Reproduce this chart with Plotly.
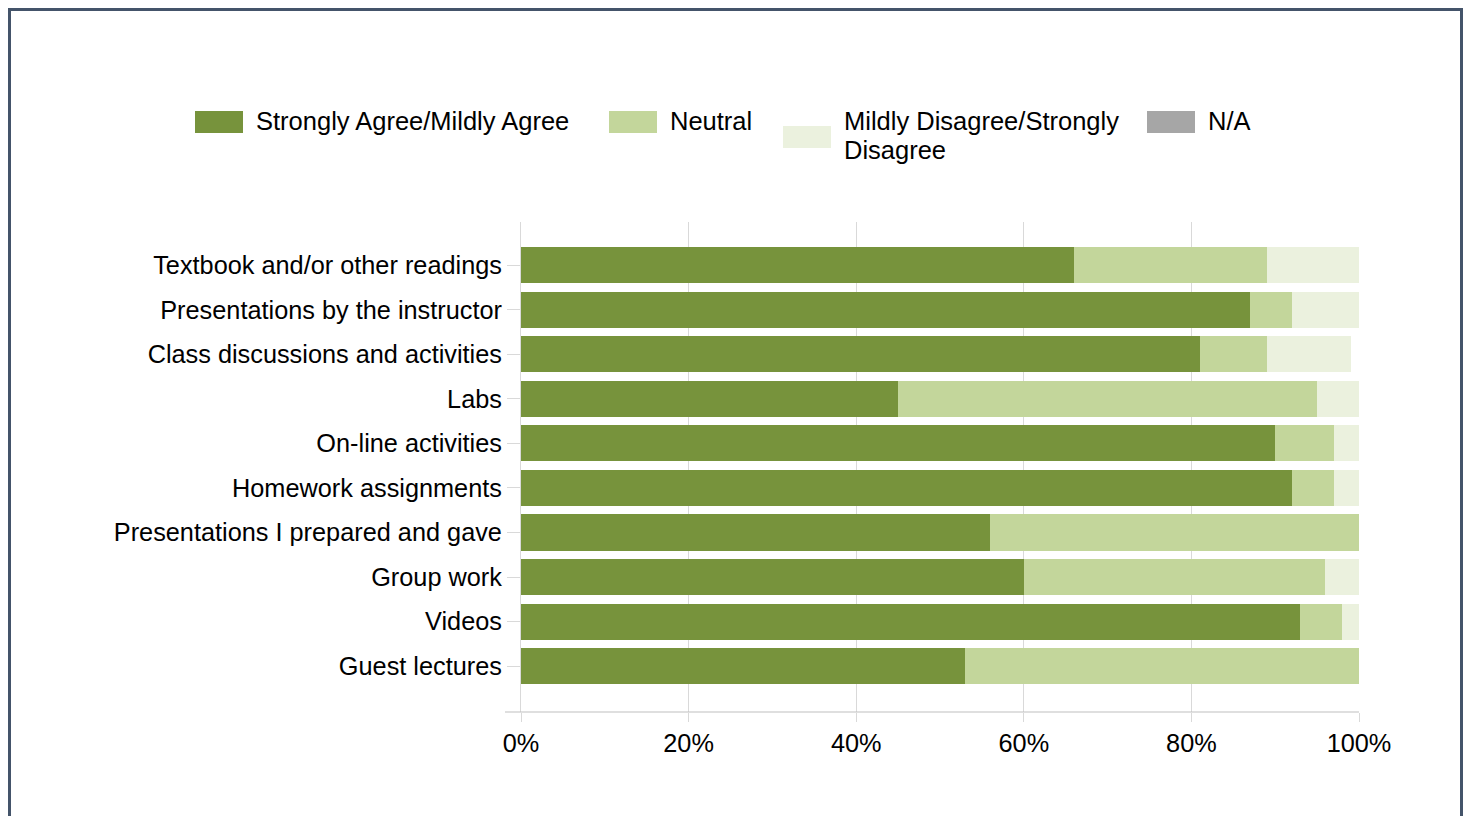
import plotly.graph_objects as go

categories = [
    "Textbook and/or other readings",
    "Presentations by the instructor",
    "Class discussions and activities",
    "Labs",
    "On-line activities",
    "Homework assignments",
    "Presentations I prepared and gave",
    "Group work",
    "Videos",
    "Guest lectures",
]
agree = [66, 87, 81, 45, 90, 92, 56, 60, 93, 53]
neutral = [23, 5, 8, 50, 7, 5, 44, 36, 5, 47]
disagree = [11, 8, 10, 5, 3, 3, 0, 4, 2, 0]
na = [0, 0, 0, 0, 0, 0, 0, 0, 0, 0]

series_names = ["Strongly Agree/Mildly Agree", "Neutral",
                "Mildly Disagree/Strongly Disagree", "N/A"]
legend_lines = [["Strongly Agree/Mildly Agree"], ["Neutral"],
                ["Mildly Disagree/Strongly", "Disagree"], ["N/A"]]
colors = ["#77933C", "#C3D69B", "#EBF1DE", "#A6A6A6"]
x_ticks = [0, 20, 40, 60, 80, 100]

OFF = 8  # page body margin
W, H = 1465, 808  # figure size (fits the window after body margin)
# plot area in screen pixels
L, R, T, B = 521, 1359, 222, 712
FONT = "Liberation Sans, Arial, sans-serif"
FS = 25.3
FS_LEG = 25.5


def px(x):
    return (x - L) / (R - L)


def py(y):
    return (B - y) / (B - T)


fig = go.Figure()
for name, vals, col in zip(series_names, [agree, neutral, disagree, na], colors):
    fig.add_trace(go.Bar(
        y=categories, x=vals, name=name, orientation="h",
        marker=dict(color=col, line=dict(width=0)),
        showlegend=False,
    ))

shapes = []
annotations = []
# frame
shapes.append(dict(type="rect", xref="paper", yref="paper",
                   x0=px(9.5), x1=px(1461.5), y0=py(840), y1=py(9.5),
                   line=dict(color="#44546A", width=3), layer="below"))
# extended x axis line
shapes.append(dict(type="line", xref="paper", yref="paper",
                   x0=px(505), x1=1, y0=0, y1=0,
                   line=dict(color="#BFBFBF", width=1)))

# manual legend
legend_items = [
    (195, 111, 254),
    (609, 111, 668),
    (783, 126, 842),
    (1147, 111, 1206),
]
for (sx, sy, tx), lines, col in zip(legend_items, legend_lines, colors):
    shapes.append(dict(type="rect", xref="paper", yref="paper",
                       x0=px(sx), x1=px(sx + 48), y0=py(sy + 22), y1=py(sy),
                       fillcolor=col, line=dict(width=0)))
    for i, line in enumerate(lines):
        annotations.append(dict(xref="paper", yref="paper", x=px(tx), y=py(121 + 29 * i),
                                text=line, showarrow=False, xanchor="left", yanchor="middle",
                                align="left",
                                font=dict(family=FONT, size=FS_LEG, color="#000000")))

fig.update_layout(
    width=W, height=H,
    margin=dict(l=L - OFF, r=W - (R - OFF), t=T - OFF, b=H - (B - OFF), pad=0),
    barmode="stack", bargap=0.19,
    plot_bgcolor="white", paper_bgcolor="white",
    font=dict(family=FONT, size=FS, color="#000000"),
    shapes=shapes, annotations=annotations,
    xaxis=dict(range=[0, 100], tickvals=x_ticks, ticktext=[f"{v}%" for v in x_ticks],
               showgrid=True, gridcolor="#D9D9D9", gridwidth=1,
               zeroline=False, showline=False,
               ticks="outside", ticklen=9, tickcolor="#D9D9D9",
               tickfont=dict(family=FONT, size=FS, color="#000000")),
    yaxis=dict(categoryorder="array", categoryarray=categories,
               range=[len(categories) - 1 + 1.03, -0.97],
               showline=True, linecolor="#D9D9D9", linewidth=1,
               ticks="outside", ticklen=13, tickcolor="#D9D9D9",
               showgrid=False, zeroline=False,
               tickfont=dict(family=FONT, size=FS, color="#000000")),
)

fig.write_html("out.html")
